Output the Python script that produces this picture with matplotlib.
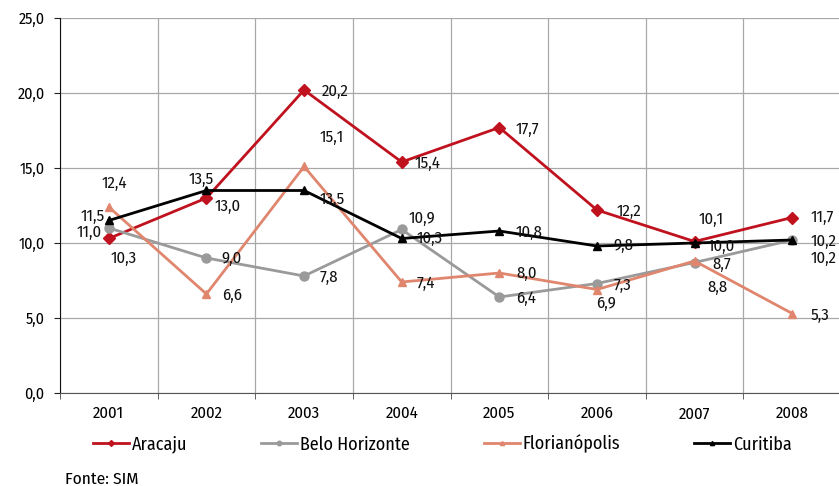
import matplotlib
matplotlib.use("Agg")
import matplotlib.pyplot as plt
import numpy as np

plt.rcParams['font.family'] = ['Fira Sans Condensed', 'DejaVu Sans']

years = ["2001", "2002", "2003", "2004", "2005", "2006", "2007", "2008"]
aracaju = [10.3, 13.0, 20.2, 15.4, 17.7, 12.2, 10.1, 11.7]
belo = [11.0, 9.0, 7.8, 10.9, 6.4, 7.3, 8.7, 10.2]
floripa = [12.4, 6.6, 15.1, 7.4, 8.0, 6.9, 8.8, 5.3]
curitiba = [11.5, 13.5, 13.5, 10.3, 10.8, 9.8, 10.0, 10.2]
yticks = [0, 5, 10, 15, 20, 25]

# label offsets (points) and alignment
off_ar = [(1, -13), (6, -5), (13, 0), (9, 0), (12, 0), (14, 0), (12, 17), (13, 1)]
ha_ar = ['left', 'left', 'left', 'left', 'left', 'left', 'center', 'left']
off_bh = [(-5, -2), (11, 1), (11.5, 0), (5, 9), (12, 0), (12, 0), (13, 0), (13, -12)]
ha_bh = ['right', 'left', 'left', 'left', 'left', 'left', 'left', 'left']
off_fl = [(4, 18), (11, 0), (11.5, 22), (11, 0), (12, 1), (6.5, -9), (9, -18), (13, 0)]
ha_fl = ['center', 'left', 'left', 'left', 'left', 'center', 'left', 'left']
off_cu = [(-3, 4), (-3.5, 9.5), (11.5, -5), (11, 1), (12, 0), (11.5, 2), (9.5, -1.5), (13, 0)]
ha_cu = ['right', 'center', 'left', 'left', 'left', 'left', 'left', 'left']

FS = 12

fig = plt.figure(figsize=(8.39, 4.86), dpi=100)
ax = fig.add_axes([60/839, 1 - 393/486, (841-60)/839, (393-18)/486])
x = np.arange(len(years))

series = [
    ("Aracaju", aracaju, "#C0121E", "D", 6.0, off_ar, ha_ar),
    ("Belo Horizonte", belo, "#9A9A9A", "o", 6.5, off_bh, ha_bh),
    ("Florianópolis", floripa, "#E0866E", "^", 6.0, off_fl, ha_fl),
    ("Curitiba", curitiba, "#000000", "^", 6.0, off_cu, ha_cu),
]
for name, vals, col, mk, ms, offs, has in series:
    ax.plot(x, vals, color=col, lw=2.0, marker=mk, ms=ms, label=name, zorder=3,
            markeredgecolor=col, clip_on=False)
    for xi, v, o, h in zip(x, vals, offs, has):
        ax.annotate(f"{v:.1f}".replace(".", ","), (xi, v), xytext=o,
                    textcoords="offset points", ha=h, va="center_baseline",
                    fontsize=FS, color="#111111", zorder=4, annotation_clip=False)

ax.set_xlim(-0.5, 7.5)
ax.set_ylim(0, 25)
ax.set_yticks(yticks)
ax.set_yticklabels([f"{t:.1f}".replace(".", ",") for t in yticks], fontsize=11.5)
ax.set_xticks(x)
ax.set_xticklabels(years, fontsize=FS)
ax.set_xticks(np.arange(-0.5, 8, 1), minor=True)
ax.tick_params(axis='x', which='major', length=0, pad=9)
ax.tick_params(axis='x', which='minor', length=4, color="#444444")
ax.tick_params(axis='y', length=4, color="#222222", pad=7)
ax.grid(True, axis='y', color="#A8A8A8", lw=0.9)
ax.grid(True, axis='x', which='minor', color="#A8A8A8", lw=0.9)
for s in ['top', 'right']:
    ax.spines[s].set_visible(False)
ax.spines['left'].set_color("#111111")
ax.spines['bottom'].set_color("#555555")
ax.set_axisbelow(True)

leg = fig.legend(loc="center left", bbox_to_anchor=(93/839, 1 - 444/486), ncol=4,
                 frameon=False, fontsize=13, handlelength=2.0, handletextpad=0.15,
                 columnspacing=4.1, markerscale=0.5, borderpad=0, borderaxespad=0)
fig.text(65/839, 1 - 479/486, "Fonte: SIM", fontsize=12.5, va="center")

fig.savefig("out.png", dpi=100)
